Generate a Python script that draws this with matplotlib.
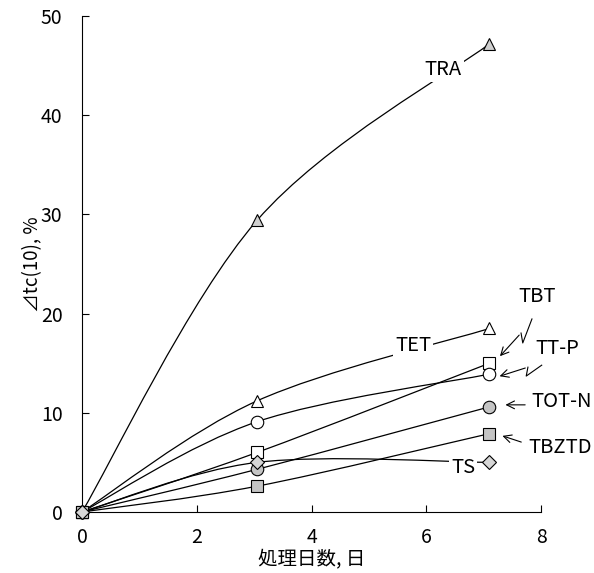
import numpy as np
import matplotlib.pyplot as plt
from matplotlib.path import Path
from matplotlib.patches import PathPatch

plt.rcParams['font.family'] = ['Noto Sans CJK JP', 'DejaVu Sans']

days = [0, 3.05, 7.1]
tra = [0, 29.4, 47.2]
tet = [0, 11.2, 18.5]
tbt = [0, 6.0, 15.0]
ttp = [0, 9.1, 13.9]
totn = [0, 4.3, 10.6]
tbztd = [0, 2.6, 7.9]
ts = [0, 5.0, 5.0]

series = [
    # values, marker, face
    (tra, '^', '#cfcfcf'),
    (tet, '^', 'white'),
    (tbt, 's', 'white'),
    (ttp, 'o', 'white'),
    (totn, 'o', '#c4c4c4'),
    (tbztd, 's', '#c4c4c4'),
    (ts, 'D', '#d6d6d6'),
]


def smooth_path(x, y):
    # excel-like smoothed line: cubic bezier through the points
    p = np.column_stack([x, y]).astype(float)
    n = len(p)
    verts = [p[0]]
    codes = [Path.MOVETO]
    for i in range(n - 1):
        prev = p[i - 1] if i > 0 else p[i]
        nxt = p[i + 2] if i + 2 < n else p[i + 1]
        c1 = p[i] + (p[i + 1] - prev) / 6
        c2 = p[i + 1] - (nxt - p[i]) / 6
        verts += [c1, c2, p[i + 1]]
        codes += [Path.CURVE4] * 3
    return Path(verts, codes)


fig = plt.figure(figsize=(5.94, 5.73), dpi=100)
ax = fig.add_axes([0.138, 0.1065, 0.773, 0.8655])

for vals, mk, fc in series:
    ax.add_patch(PathPatch(smooth_path(days, vals), fill=False,
                           edgecolor='black', lw=0.9, zorder=2))
    ax.plot(days, vals, linestyle='none', marker=mk, markersize=9 if mk != 'D' else 7,
            markerfacecolor=fc, markeredgecolor='black', markeredgewidth=0.8,
            clip_on=False, zorder=4)

ax.set_xlim(0, 8)
ax.set_ylim(0, 50)
ax.set_xticks([0, 2, 4, 6, 8])
ax.set_yticks([0, 10, 20, 30, 40, 50])
ax.spines['top'].set_visible(False)
ax.spines['right'].set_visible(False)
ax.tick_params(direction='in', length=5, width=0.8, labelsize=14)
ax.tick_params(axis='y', pad=14)
ax.tick_params(axis='x', pad=11)
ax.set_xlabel('処理日数, 日', fontsize=14, labelpad=1)
ax.set_ylabel('⊿tc(10), %', fontsize=13.5, labelpad=-2)

box = dict(facecolor='white', edgecolor='none', pad=1.5)
lbl = dict(fontsize=14.5, ha='center', va='center', zorder=5, clip_on=False)
ax.text(6.29, 44.6, 'TRA', bbox=box, **lbl)
ax.text(5.77, 16.8, 'TET', bbox=box, **lbl)
ax.text(6.64, 4.5, 'TS', bbox=box, **lbl)
ax.text(7.93, 21.7, 'TBT', **lbl)
ax.text(8.29, 16.5, 'TT-P', **lbl)
ax.text(8.36, 11.1, 'TOT-N', **lbl)
ax.text(8.33, 6.55, 'TBZTD', **lbl)

# squiggly leaders for TBT and TT-P
arrow = dict(arrowstyle='->', lw=0.8, color='black', mutation_scale=14)
ax.plot([7.84, 7.68, 7.65], [19.46, 17.04, 18.04], color='black', lw=0.8, clip_on=False)
ax.annotate('', xy=(7.25, 15.5), xytext=(7.65, 18.04), arrowprops=arrow, annotation_clip=False)
ax.plot([8.01, 7.74, 7.77], [14.8, 13.7, 14.6], color='black', lw=0.8, clip_on=False)
ax.annotate('', xy=(7.23, 13.6), xytext=(7.77, 14.6), arrowprops=arrow, annotation_clip=False)
ax.annotate('', xy=(7.33, 10.8), xytext=(7.77, 10.8), arrowprops=arrow, annotation_clip=False)
ax.annotate('', xy=(7.28, 7.76), xytext=(7.70, 6.96), arrowprops=arrow, annotation_clip=False)

fig.savefig('out.png', dpi=100)
